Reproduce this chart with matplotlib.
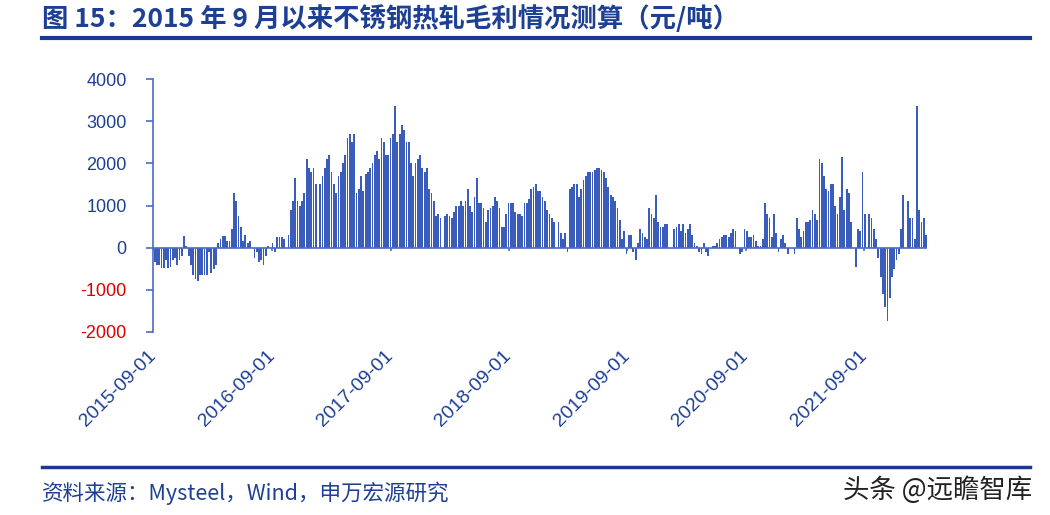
# Stainless hot-rolled gross margin since 2015-09 (weekly bars)
import numpy as np
import pandas as pd
import matplotlib.pyplot as plt
import matplotlib.dates as mdates
import matplotlib.transforms as mtransforms

plt.rcParams['font.family'] = ['Liberation Sans', 'Noto Sans CJK SC', 'DejaVu Sans']

# Data (yuan/ton), weekly from 2015-09-04
seg_2015 = [-350, -400, -400, -480, -480, -300, -480, -450, -300, -250, -400, -300, -200,
            280, 30,
            -200, -400, -650, -750, -800, -650, -650, -650, -650, -100, -600, -500, -400,
            100, 200, 280, 280, 150, 150, 450, 1300, 1100, 750, 500, 150, 300, 100, 150, 0,
            -250, -100, -350, -300, -400, -200, 50, 0, 100, -100, 250, 250]
seg_2016 = [250, 200, 0, 300, 900, 1100, 1650, 1100, 1000, 1100, 1300, 2100, 1900, 1800, 1900,
            1500, 0, 1500, 1700, 1900, 2100, 2200, 1800, 1500, 1300, 1700, 1800, 2000, 2200,
            2600, 2700, 2500, 2700, 1300, 1400, 1700, 1350, 1750, 1800, 1900, 2000, 2200, 2300,
            2100, 2600, 2500, 2200, 2200, 2600, 2700, 3350, 2500, 2700, 2900, 2800, 2500]
seg_2017 = [2500, 2000, 1700, 2000, 2100, 2200, 1900, 1800, 1900, 1400, 1300, 1100, 750, 800,
            700, 0, 750, 800, 750, 700, 850, 1000, 1000, 1100, 1000, 1100, 1400, 1000, 850,
            1200, 1650, 1050, 1050, 950, 600, 900, 950, 1000, 1200, 1100, 950, 500, 500, 800,
            1050, 1050, 1050, 850, 800, 800, 750, 1050, 1050, 1150, 1400, 1450]
seg_2018 = [1500, 1350, 1350, 1200, 1100, 900, 800, 700, 600, 0, 600, 350, 200, 350, -100,
            1400, 1450, 1500, 1500, 1200, 1400, 1600, 1700, 1800, 1800, 1800, 1850, 1900, 1900,
            1850, 1800, 1650, 1450, 1250, 1200, 1100, 950, 650, 200, 400, -150, 300, 300, -100,
            -300, 100, 450, 350, 250, 200, 950, 800, 700, 1250, 600, 500, 500]
seg_2019 = [550, 550, 0, 0, 450, 500, 550, 400, 550, 350, 450, 550, 300, 100, 50, -100, -150,
            100, -100, -200, 0, 50, 50, 100, 200, 250, 300, 300, 250, 350, 450, 400, 0, -150,
            -100, 450, 400, 250, 250, 300, 150, 50, 50, 200, 1050, 800, 700, 250, 800, 350,
            -100, 200, 300, 100, -150, 0]
seg_2020 = [0, -150, 700, 450, 250, 400, 600, 600, 650, 900, 800, 650, 2100, 2000, 1700, 1400,
            1350, 1500, 1500, 1000, 800, 1200, 2150, 900, 1400, 1300, 600, 0, -450, 450, 400,
            1800, 800, 0, 800, 700, 450, 200, -250, -700, -1100, -1400, -1750, -1200, -700,
            -500, -300, -150, 450, 1250, 0, 1100, 700, 700, 200, 3350, 900, 600, 700, 300]

profit = seg_2015 + seg_2016 + seg_2017 + seg_2018 + seg_2019 + seg_2020
dates = pd.date_range('2015-09-04', periods=len(profit), freq='7D')

tick_dates = pd.to_datetime(['2015-09-01', '2016-09-01', '2017-09-01', '2018-09-01',
                             '2019-09-01', '2020-09-01', '2021-09-01'])
y_ticks = [4000, 3000, 2000, 1000, 0, -1000, -2000]

navy = '#1d3f94'
bar_blue = '#3a5cba'
axis_blue = '#4a6cc4'
cjk = ['Noto Sans CJK SC', 'DejaVu Sans']

fig = plt.figure(figsize=(10.5, 5.15), dpi=100)
ax = fig.add_axes([153 / 1050, 1 - 332 / 515, (927 - 153) / 1050, (332 - 79) / 515])

ax.bar(dates, profit, width=5.5, color=bar_blue, linewidth=0)
ax.axhline(0, color=axis_blue, linewidth=1.2)
ax.vlines(tick_dates, -70, 0, color=axis_blue, linewidth=1.2)

ax.set_ylim(-2000, 4000)
ax.set_xlim(pd.Timestamp('2015-08-30'), dates[-1] + pd.Timedelta(days=3))
ax.set_yticks(y_ticks)
ax.set_yticklabels([str(v) for v in y_ticks], fontsize=13)
for lab, v in zip(ax.get_yticklabels(), y_ticks):
    lab.set_color('#e00000' if v < 0 else navy)

ax.set_xticks(tick_dates)
ax.set_xticklabels([d.strftime('%Y-%m-%d') for d in tick_dates], fontsize=14, color=navy,
                   rotation=45, ha='right', va='center', rotation_mode='anchor')
shift = mtransforms.ScaledTranslation(6 / 100, 0, fig.dpi_scale_trans)
for lab in ax.get_xticklabels():
    lab.set_transform(lab.get_transform() + shift)
ax.tick_params(axis='x', length=0, pad=15)
ax.tick_params(axis='y', length=5, color=axis_blue, width=1.2, pad=14)

for s in ['top', 'right', 'bottom']:
    ax.spines[s].set_visible(False)
ax.spines['left'].set_color(axis_blue)
ax.spines['left'].set_linewidth(1.2)

# title, rules and footer
fig.text(42 / 1050, 1 - 19 / 515, '图 15：2015 年 9 月以来不锈钢热轧毛利情况测算（元/吨）',
         fontsize=19, fontweight='bold', color=navy, va='center', family=cjk)
fig.add_artist(plt.Line2D([42 / 1050, 1030 / 1050], [1 - 38 / 515, 1 - 38 / 515],
                          color='#1a3a8f', linewidth=3))
fig.add_artist(plt.Line2D([42 / 1050, 1030 / 1050], [1 - 467 / 515, 1 - 467 / 515],
                          color='#1a3a8f', linewidth=2.5))
fig.text(42 / 1050, 1 - 493 / 515, '资料来源：Mysteel，Wind，申万宏源研究',
         fontsize=15.5, color=navy, va='center', family=cjk)
fig.text(1032 / 1050, 1 - 490 / 515, '头条 @远瞻智库',
         fontsize=19, color='#222222', va='center', ha='right', family=cjk)

fig.savefig('out.png', dpi=100)
